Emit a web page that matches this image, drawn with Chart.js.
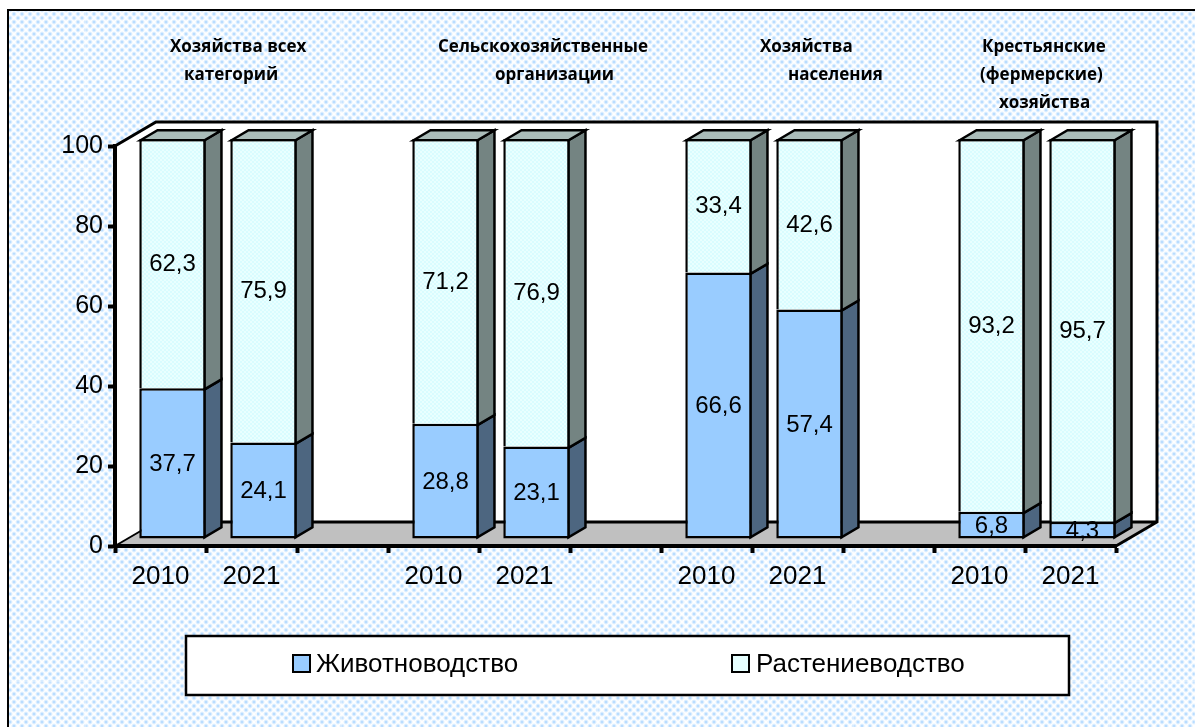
<!DOCTYPE html>
<html>
<head>
<meta charset="utf-8">
<style>
  html, body { margin: 0; padding: 0; background: #fff; overflow: hidden; }
  canvas { display: block; }
</style>
<script src="https://cdn.jsdelivr.net/npm/chart.js@4"></script>
</head>
<body>
<canvas id="grafica" width="1195" height="727"></canvas>
<script>
// Datos
const categorias = ["2010", "2021", "", "2010", "2021", "", "2010", "2021", "", "2010", "2021"]
const zhivotnovodstvo = [37.7, 24.1, null, 28.8, 23.1, null, 66.6, 57.4, null, 6.8, 4.3]
const rastenievodstvo = [62.3, 75.9, null, 71.2, 76.9, null, 33.4, 42.6, null, 93.2, 95.7]
const nombresSeries = ["Животноводство", "Растениеводство"]
const titulosLineas = ["Хозяйства всех", "категорий", "Сельскохозяйственные", "организации", "Хозяйства", "населения", "Крестьянские", "(фермерские)", "хозяйства"]

// Posicion de cada linea de titulo (izquierda, centro vertical)
const titulosPos = [[170, 47], [184, 75], [438, 47], [495, 75], [760, 47], [788, 75], [982, 47], [980, 75], [999, 103]]

const FUENTE = '"Liberation Sans", Arial, sans-serif'
const DESPL_X = 12, DESPL_Y = -7      // barras desplazadas dentro de la caja 3D
const PROF_X = 17, PROF_Y = -10       // profundidad de cada barra
const CAJA_X = 41, CAJA_Y = -24       // profundidad de la caja
const LINEA = 2.5

const canvas = document.getElementById("grafica")
const ctxG = canvas.getContext("2d")

function patronFondo() {
    const t = document.createElement("canvas")
    t.width = 8; t.height = 8
    const c = t.getContext("2d")
    c.fillStyle = "#ffffff"
    c.fillRect(0, 0, 8, 8)
    for (const [x, y] of [[2, 2], [6, 6], [-2, 6], [10, 2], [2, 10], [6, -2]]) {
        const g = c.createRadialGradient(x, y, 0.5, x, y, 3)
        g.addColorStop(0, "#b0d8ff")
        g.addColorStop(1, "rgba(200,228,255,0)")
        c.fillStyle = g
        c.fillRect(0, 0, 8, 8)
    }
    return ctxG.createPattern(t, "repeat")
}

function patronCian() {
    const t = document.createElement("canvas")
    t.width = 4; t.height = 4
    const c = t.getContext("2d")
    c.fillStyle = "#e9ffff"
    c.fillRect(0, 0, 4, 4)
    c.fillStyle = "#d9fcff"
    c.fillRect(0, 0, 2, 2)
    c.fillRect(2, 2, 2, 2)
    return ctxG.createPattern(t, "repeat")
}

function poligono(ctx, puntos, relleno) {
    ctx.beginPath()
    puntos.forEach((p, i) => i ? ctx.lineTo(p[0], p[1]) : ctx.moveTo(p[0], p[1]))
    ctx.closePath()
    ctx.fillStyle = relleno
    ctx.fill()
}

const fondoYCaja = {
    id: "fondoYCaja",
    beforeDraw(chart) {
        const ctx = chart.ctx
        const { left, right, top, bottom } = chart.chartArea
        ctx.save()
        // fondo y marco
        ctx.fillStyle = "#ffffff"
        ctx.fillRect(0, 0, 1195, 727)
        ctx.fillStyle = patronFondo()
        ctx.fillRect(8, 10, 1187, 717)
        // costuras claras del patron
        ctx.fillStyle = "rgba(255,255,255,0.6)"
        for (let x = 85.33; x < 1195; x += 85.33) ctx.fillRect(x, 10, 1, 717)
        for (let y = 84; y < 727; y += 85.33) ctx.fillRect(8, y, 1187, 1)
        ctx.fillStyle = "#000000"
        ctx.fillRect(7, 9, 1188, 2)
        ctx.fillRect(7, 9, 2, 718)

        // paredes y suelo
        poligono(ctx, [[left, top], [left + CAJA_X, top + CAJA_Y], [right + CAJA_X, top + CAJA_Y], [right + CAJA_X, bottom + CAJA_Y], [right, bottom], [left, bottom]], "#ffffff")
        poligono(ctx, [[left, bottom], [left + CAJA_X, bottom + CAJA_Y], [right + CAJA_X, bottom + CAJA_Y], [right, bottom]], "#c0c0c0")
        ctx.strokeStyle = "#000000"
        ctx.lineWidth = 3
        ctx.beginPath()
        ctx.moveTo(left, top)
        ctx.lineTo(left + CAJA_X, top + CAJA_Y)
        ctx.lineTo(right + CAJA_X, top + CAJA_Y)
        ctx.lineTo(right + CAJA_X, bottom + CAJA_Y)
        ctx.lineTo(right, bottom)
        ctx.moveTo(left + CAJA_X, bottom + CAJA_Y)
        ctx.lineTo(right + CAJA_X, bottom + CAJA_Y)
        ctx.stroke()
        ctx.lineWidth = 2
        ctx.beginPath()
        ctx.moveTo(left, bottom)
        ctx.lineTo(left + CAJA_X, bottom + CAJA_Y)
        ctx.stroke()
        ctx.restore()
    },
    beforeDatasetsDraw(chart) {
        // caras laterales y superiores de las barras
        const ctx = chart.ctx
        const lados = ["#4d6680", "#748482"]
        ctx.save()
        ctx.strokeStyle = "#000000"
        ctx.lineWidth = LINEA
        ctx.lineJoin = "miter"
        chart.data.datasets.forEach((ds, d) => {
            chart.getDatasetMeta(d).data.forEach((el, i) => {
                if (ds.data[i] == null) return
                const der = el.x + el.width / 2 + DESPL_X - LINEA / 2
                const izq = el.x - el.width / 2 + DESPL_X + LINEA / 2
                const arriba = el.y + DESPL_Y + LINEA / 2
                // la serie de arriba comparte la linea inclinada con la de abajo
                const abajo = el.base + DESPL_Y + (d == 1 ? LINEA / 2 : -LINEA / 2)
                const lado = [[der, arriba], [der + PROF_X, arriba + PROF_Y], [der + PROF_X, abajo + PROF_Y], [der, abajo]]
                poligono(ctx, lado, lados[d])
                ctx.stroke()
                if (d == 1) {
                    poligono(ctx, [[izq, arriba], [izq + PROF_X, arriba + PROF_Y], [der + PROF_X, arriba + PROF_Y], [der, arriba]], "#aabcb9")
                    ctx.stroke()
                }
            })
        })
        ctx.restore()
    },
    beforeDatasetDraw(chart) {
        chart.ctx.save()
        chart.ctx.translate(DESPL_X, DESPL_Y)
    },
    afterDatasetDraw(chart) {
        chart.ctx.restore()
    },
    afterDraw(chart) {
        const ctx = chart.ctx
        ctx.save()
        ctx.fillStyle = "#000000"
        ctx.textAlign = "center"
        ctx.textBaseline = "middle"

        // etiquetas de valores
        ctx.font = "24px " + FUENTE
        chart.data.datasets.forEach((ds, d) => {
            chart.getDatasetMeta(d).data.forEach((el, i) => {
                if (ds.data[i] == null) return
                const texto = ds.data[i].toFixed(1).replace(".", ",")
                ctx.fillText(texto, el.x + DESPL_X, (el.y + el.base) / 2 + DESPL_Y + 1)
            })
        })

        // titulos de cada grupo
        ctx.textAlign = "left"
        ctx.font = 'bold 17px "Open Sans", sans-serif'
        titulosLineas.forEach((linea, i) => {
            ctx.fillText(linea, titulosPos[i][0], titulosPos[i][1])
        })

        // leyenda
        ctx.fillStyle = "#ffffff"
        ctx.fillRect(186, 636, 883, 59)
        ctx.strokeStyle = "#000000"
        ctx.lineWidth = 2.5
        ctx.strokeRect(186, 636, 883, 59)
        ctx.font = "26px " + FUENTE
        const cajas = [[293, 316], [732, 756]]
        nombresSeries.forEach((nombre, i) => {
            ctx.fillStyle = i == 0 ? "#99ccff" : "#e6ffff"
            ctx.fillRect(cajas[i][0], 655, 17, 17)
            ctx.lineWidth = 2
            ctx.strokeRect(cajas[i][0], 655, 17, 17)
            ctx.fillStyle = "#000000"
            ctx.fillText(nombre, cajas[i][1], 665)
        })
        ctx.restore()
    }
}

new Chart(canvas, {
    type: "bar",
    data: {
        labels: categorias,
        datasets: [
            { label: nombresSeries[0], data: zhivotnovodstvo, backgroundColor: "#99ccff", borderColor: "#000000", borderWidth: LINEA, borderSkipped: false },
            { label: nombresSeries[1], data: rastenievodstvo, backgroundColor: patronCian(), borderColor: "#000000", borderWidth: { top: LINEA, left: LINEA, right: LINEA, bottom: 0 }, borderSkipped: false }
        ]
    },
    options: {
        responsive: false,
        animation: false,
        clip: false,
        barPercentage: 0.73,
        categoryPercentage: 1,
        layout: { padding: { left: 0, top: 146, right: 79, bottom: 0 } },
        plugins: { legend: { display: false }, title: { display: false }, tooltip: { enabled: false } },
        scales: {
            x: {
                stacked: true,
                afterFit(scale) { scale.height = 181 },
                border: { color: "#000000", width: 4 },
                grid: { drawOnChartArea: false, color: "#000000", tickColor: "#000000", tickLength: 7, tickWidth: 4 },
                ticks: { color: "#000000", padding: 8, maxRotation: 0, autoSkip: false, font: { family: FUENTE, size: 26 } }
            },
            y: {
                stacked: true,
                min: 0,
                max: 100,
                afterFit(scale) { scale.width = 115 },
                border: { color: "#000000", width: 4 },
                grid: { drawOnChartArea: false, color: "#000000", tickColor: "#000000", tickLength: 7, tickWidth: 4 },
                ticks: { color: "#000000", stepSize: 20, padding: 5, font: { family: FUENTE, size: 25 } }
            }
        }
    },
    plugins: [fondoYCaja]
})
</script>
</body>
</html>
